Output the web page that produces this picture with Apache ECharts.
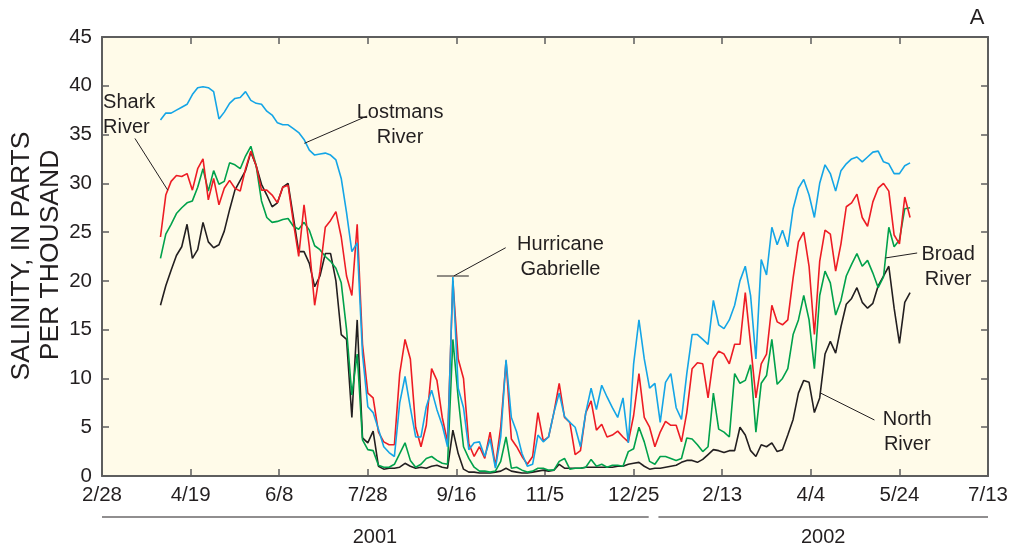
<!DOCTYPE html>
<html><head><meta charset="utf-8">
<script src="https://cdn.jsdelivr.net/npm/echarts@6/dist/echarts.min.js"></script>
<style>html,body{margin:0;padding:0;background:#fff}#c{width:1011px;height:550px}</style>
</head><body><div id="c"></div>
<script>
// x values are days since Feb 28, 2001
const tickLabels = ['2/28','4/19','6/8','7/28','9/16','11/5','12/25','2/13','4/4','5/24','7/13'];
const startDay = 33, stepDays = 3;

const lostmans = [
36.5,37.2,37.2,37.5,37.8,38.1,39.1,39.8,39.9,39.8,
39.4,36.6,37.3,38.2,38.7,38.8,39.4,38.5,38.2,38.1,
37.4,37.0,36.2,36.0,36.0,35.6,35.2,34.5,33.4,32.9,
33.0,33.1,32.9,32.4,30.5,27.0,23.0,23.9,12.5,7.1,
6.5,4.8,3.0,2.4,2.0,7.5,10.2,7.0,4.0,4.0,
7.1,8.8,6.8,5.2,3.0,20.4,9.0,7.0,2.7,3.4,
3.5,2.0,3.8,0.8,4.0,11.9,6.0,4.5,2.3,1.0,
1.2,4.2,3.5,4.0,6.5,8.5,6.1,5.5,5.0,3.0,
6.5,9.0,6.8,9.3,8.1,7.0,6.0,8.0,3.4,11.5,
16.0,12.0,9.0,9.5,5.5,9.6,10.5,7.0,5.8,10.5,
14.5,14.5,14.0,13.5,18.0,15.5,15.1,16.0,17.5,20.0,
21.5,18.5,12.0,22.2,20.6,25.5,23.7,25.2,23.5,27.4,
29.5,30.4,28.8,26.5,30.0,31.9,31.0,29.2,31.3,32.0,
32.5,32.7,32.2,32.7,33.2,33.3,32.2,32.0,31.0,31.0,
31.8,32.1];

const shark = [
24.5,28.8,30.2,30.8,30.7,31.0,29.3,31.5,32.5,28.3,
30.5,27.8,29.5,30.3,29.5,29.2,31.5,33.3,31.8,29.3,
29.3,28.8,28.0,29.6,29.8,26.0,22.5,27.8,23.5,17.5,
21.0,25.5,26.2,27.1,24.5,20.5,18.5,25.8,13.5,8.5,
8.0,4.5,3.5,3.2,3.2,10.5,14.0,12.0,5.0,3.0,
5.2,11.0,9.8,6.0,3.5,20.0,12.0,10.0,3.3,2.0,
3.0,1.8,4.5,1.0,5.0,11.8,3.8,3.0,2.0,1.2,
2.0,6.5,3.6,4.0,6.5,9.5,6.0,5.5,2.2,2.6,
6.5,7.7,4.7,5.3,4.0,4.2,4.6,4.0,3.5,6.2,
10.5,6.0,5.0,3.0,4.5,5.6,5.2,5.2,3.5,6.5,
11.0,11.6,11.5,8.0,12.0,12.8,12.5,11.5,13.5,13.5,
18.8,13.5,8.0,11.5,12.5,17.5,15.8,15.5,16.0,20.3,
24.0,25.0,21.5,14.5,22.0,25.2,24.8,21.0,23.8,27.6,
28.0,28.9,26.5,25.6,28.1,29.5,30.0,29.2,24.7,23.8,
28.6,26.5];

const broad = [
22.3,24.8,25.8,26.9,27.5,28.0,28.2,29.6,31.5,29.2,
31.3,29.9,30.2,32.1,31.9,31.5,32.8,33.8,31.8,28.2,
26.5,26.0,26.1,26.3,26.4,25.6,25.3,26.0,25.2,23.6,
23.2,22.5,22.0,21.3,19.8,15.0,8.3,12.5,3.7,2.7,
2.6,1.1,0.9,0.9,1.2,2.3,3.4,1.6,0.9,1.2,
1.8,2.0,1.6,1.3,1.2,14.0,8.0,3.0,1.8,0.9,
0.5,0.5,0.4,0.5,1.5,4.0,0.8,0.9,0.6,0.4,
0.5,0.8,0.8,0.6,0.6,1.5,1.8,0.7,0.8,0.8,
0.9,1.7,1.0,1.2,0.9,1.1,1.1,1.0,2.5,2.8,
5.0,3.5,1.5,1.2,2.0,2.0,1.8,1.6,1.8,3.9,
3.8,3.2,2.5,3.0,8.5,4.8,4.5,4.0,10.5,9.5,
9.8,11.4,4.5,9.5,10.3,14.0,9.4,10.0,11.0,14.5,
16.0,18.5,16.0,11.0,18.5,21.0,19.8,16.5,18.0,20.5,
21.7,22.8,21.5,22.1,20.8,19.3,20.4,25.5,23.5,24.2,
27.4,27.5];

const north = [
17.5,19.5,21.1,22.6,23.5,25.8,22.3,23.2,26.0,24.0,
23.4,23.7,25.1,27.3,29.3,30.3,31.3,33.2,31.8,29.9,
28.8,27.6,28.0,29.6,30.0,26.5,23.0,23.0,21.8,19.4,
20.5,22.8,22.8,20.0,14.5,14.0,6.0,16.0,3.9,3.4,
4.6,1.0,0.7,0.8,0.8,0.9,1.3,1.0,0.8,0.9,
0.8,1.0,1.1,0.9,0.8,4.7,2.3,0.7,0.4,0.4,
0.3,0.3,0.3,0.4,0.5,0.8,0.5,0.4,0.3,0.3,
0.4,0.5,0.6,0.5,0.6,1.2,0.8,0.8,0.8,0.8,
0.9,0.9,0.9,0.9,0.9,0.9,1.0,1.0,1.2,1.3,
1.4,1.0,0.7,0.8,0.8,0.9,1.0,1.1,1.4,1.6,
1.6,1.4,1.7,2.2,2.7,2.6,2.4,2.6,2.6,5.0,
4.2,2.6,2.0,3.2,3.0,3.4,2.5,2.7,4.2,5.8,
8.5,9.8,9.6,6.5,8.0,12.5,13.8,12.6,15.3,17.6,
18.2,19.3,17.8,17.2,17.7,19.5,20.5,21.5,17.2,13.6,
17.8,18.8];

const FONT = '"Liberation Sans", Arial, Helvetica, sans-serif';
const INK = '#231f20';
const AX = '#5e5e5e';
const toPts = vals => vals.map((v, i) => [startDay + i * stepDays, v]);

const chart = echarts.init(document.getElementById('c'), null, {renderer: 'canvas', width: 1011, height: 550});

function xAx(pos, show) {
  return {type: 'value', min: 0, max: 500, interval: 50, position: pos,
    axisLine: {show: true, onZero: false, lineStyle: {color: AX, width: 2}},
    axisTick: {show: true, inside: true, length: 7, lineStyle: {color: AX, width: 1.5}},
    axisLabel: {show: show, fontSize: 20.5, color: INK, fontFamily: FONT, margin: 9,
      formatter: v => tickLabels[Math.round(v / 50)]},
    splitLine: {show: false}};
}
function yAx(pos, show) {
  return {type: 'value', min: 0, max: 45, interval: 5, position: pos,
    axisLine: {show: true, onZero: false, lineStyle: {color: AX, width: 2}},
    axisTick: {show: true, inside: true, length: 7, lineStyle: {color: AX, width: 1.5}},
    axisLabel: {show: show, fontSize: 20.5, color: INK, fontFamily: FONT, margin: 10},
    splitLine: {show: false}};
}

const seriesDefs = [
  {name: 'North River', vals: north, color: '#231f20'},
  {name: 'Broad River', vals: broad, color: '#00a14b'},
  {name: 'Shark River', vals: shark, color: '#ed1c24'},
  {name: 'Lostmans River', vals: lostmans, color: '#14a5e6'}
];

chart.setOption({
  animation: false,
  backgroundColor: '#ffffff',
  grid: {left: 102, right: 20, top: 37, bottom: 74, show: true, backgroundColor: '#fffbe9', borderWidth: 0},
  xAxis: [xAx('bottom', true), xAx('top', false)],
  yAxis: [yAx('left', true), yAx('right', false)],
  series: seriesDefs.map(s => ({
    type: 'line', name: s.name, data: toPts(s.vals), xAxisIndex: 0, yAxisIndex: 0,
    showSymbol: false, symbol: 'none',
    lineStyle: {width: 1.6, color: s.color}, itemStyle: {color: s.color}
  }))
});

// Annotations in data coordinates [day, salinity]
const labels = [
  {text: 'Shark\nRiver', at: [0.6, 37.0], align: 'left'},
  {text: 'Lostmans\nRiver', at: [168.2, 36.0], align: 'center'},
  {text: 'Hurricane\nGabrielle', at: [258.7, 22.45], align: 'center'},
  {text: 'Broad\nRiver', at: [477.5, 21.47], align: 'center'},
  {text: 'North\nRiver', at: [454.4, 4.5], align: 'center'}
];
const leaders = [
  [[18.6, 34.6], [37.1, 29.3]],
  [[114.2, 34.1], [149.6, 36.9]],
  [[189.0, 20.5], [207.0, 20.5]],
  [[198.5, 20.5], [227.8, 23.4]],
  [[442.1, 22.35], [460.0, 22.86]],
  [[405.5, 8.5], [435.9, 5.74]]
];
const years = [{label: '2001', from: 0, to: 308.5, mid: 154}, {label: '2002', from: 314, to: 500, mid: 407}];

const px = p => chart.convertToPixel({xAxisIndex: 0, yAxisIndex: 0}, p);
const g = [];
labels.forEach(l => {
  const p = px(l.at);
  g.push({type: 'text', x: p[0], y: p[1], z: 100, style: {text: l.text, font: '20px ' + FONT, fill: INK,
    align: l.align, textAlign: l.align, verticalAlign: 'middle', textVerticalAlign: 'middle', lineHeight: 25}});
});
leaders.forEach(seg => {
  const a = px(seg[0]), b = px(seg[1]);
  g.push({type: 'line', z: 100, shape: {x1: a[0], y1: a[1], x2: b[0], y2: b[1]}, style: {stroke: INK, lineWidth: 1}});
});
const yBottom = px([0, 0])[1];
years.forEach(y => {
  const a = px([y.from, 0])[0], b = px([y.to, 0])[0], m = px([y.mid, 0])[0];
  g.push({type: 'line', shape: {x1: a, y1: yBottom + 41, x2: b, y2: yBottom + 41}, style: {stroke: INK, lineWidth: 1.2}});
  g.push({type: 'text', x: m, y: yBottom + 61, style: {text: y.label, font: '20px ' + FONT, fill: INK,
    align: 'center', textAlign: 'center', verticalAlign: 'middle', textVerticalAlign: 'middle'}});
});
// y axis title
g.push({type: 'text', x: 22, y: 256, rotation: Math.PI / 2, style: {text: 'SALINITY, IN PARTS', font: '26.5px ' + FONT, fill: INK,
  align: 'center', textAlign: 'center', verticalAlign: 'middle', textVerticalAlign: 'middle'}});
g.push({type: 'text', x: 51, y: 255, rotation: Math.PI / 2, style: {text: 'PER THOUSAND', font: '26.5px ' + FONT, fill: INK,
  align: 'center', textAlign: 'center', verticalAlign: 'middle', textVerticalAlign: 'middle'}});
// panel letter
g.push({type: 'text', x: 977, y: 18, style: {text: 'A', font: '22px ' + FONT, fill: INK,
  align: 'center', textAlign: 'center', verticalAlign: 'middle', textVerticalAlign: 'middle'}});

chart.setOption({graphic: {elements: g}});
</script>
</body></html>
